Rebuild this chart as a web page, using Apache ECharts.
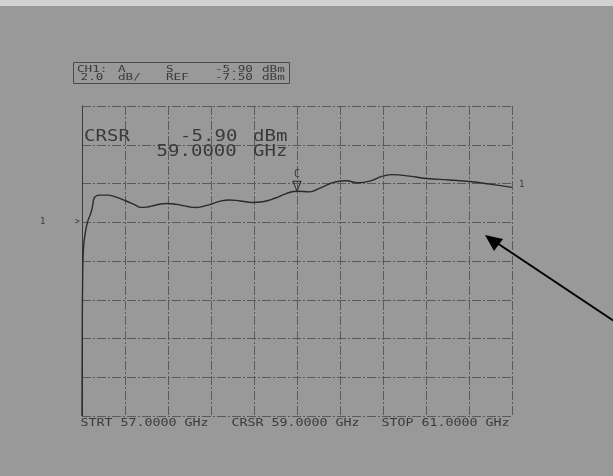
<!DOCTYPE html>
<html>
<head>
<meta charset="utf-8">
<script src="https://cdn.jsdelivr.net/npm/echarts@6/dist/echarts.min.js"></script>
<style>
html, body { margin: 0; padding: 0; background: #999999; }
#trendChart { width: 613px; height: 476px; }
</style>
</head>
<body>
<div id="trendChart"></div>
<script>
// trace: frequency (GHz) and level (dBm)
var freqArr = [57.000, 57.003, 57.006, 57.012, 57.030, 57.052, 57.082, 57.100, 57.112, 57.160,
	57.235, 57.312, 57.405, 57.498, 57.545, 57.600, 57.680, 57.791, 57.880, 57.994,
	58.056, 58.180, 58.279, 58.370, 58.470, 58.589, 58.680, 58.800, 58.900, 59.000,
	59.116, 59.209, 59.365, 59.458, 59.563, 59.675, 59.798, 59.891, 60.047, 60.202,
	60.419, 60.605, 60.791, 61.000];
var levelArr = [-17.5, -12.5, -10.5, -9.0, -8.06, -7.48, -7.03, -6.62, -6.27, -6.10,
	-6.10, -6.19, -6.39, -6.62, -6.73, -6.72, -6.62, -6.53, -6.58, -6.70,
	-6.74, -6.60, -6.42, -6.35, -6.40, -6.48, -6.44, -6.25, -6.02, -5.90,
	-5.93, -5.75, -5.41, -5.36, -5.46, -5.38, -5.12, -5.04, -5.12, -5.24,
	-5.32, -5.40, -5.53, -5.70];

var startFreq = 57.0;
var stopFreq = 61.0;
var cursorFreq = 59.0;
var cursorLevel = -5.90;
var refLevel = -7.50;
var dbPerDiv = 2.0;
var refDiv = 5;        // reference line, counted in divisions from the bottom
var xDivs = 10;
var yDivs = 8;

var headerRow1 = ['CH1:', 'A', 'S', '-5.90', 'dBm'];
var headerRow2 = ['2.0', 'dB/', 'REF', '-7.50', 'dBm'];
var crsrRow1 = ['CRSR', '-5.90', 'dBm'];
var crsrRow2 = ['59.0000', 'GHz'];
var sweepLabels = ['STRT 57.0000 GHz', 'CRSR 59.0000 GHz', 'STOP 61.0000 GHz'];

var seriesData = [];
for (var i = 0; i < freqArr.length; i++) {
	seriesData.push([freqArr[i], levelArr[i]]);
}

var ink = '#3a3a3a';
var mono = '"DejaVu Sans Mono", "Liberation Mono", monospace';

function txt(s, x, y, size, sx) {
	return {
		type: 'text', x: x, y: y, scaleX: sx, z: 10,
		style: { text: s, font: size + 'px ' + mono, fill: ink, textVerticalAlign: 'middle' }
	};
}

var headerX = [77, 118, 166, 215, 262];
var graphicArr = [
	{ type: 'rect', shape: { x: 0, y: 0, width: 613, height: 6 }, style: { fill: '#d2d2d2' } },
	{ type: 'rect', shape: { x: 73.5, y: 62.5, width: 216, height: 21 }, style: { fill: 'none', stroke: '#4a4a4a', lineWidth: 1 } }
];
for (var j = 0; j < headerRow1.length; j++) {
	graphicArr.push(txt(headerRow1[j], headerX[j], 69.5, 9, 1.4));
	graphicArr.push(txt(headerRow2[j], j == 0 ? 80.5 : headerX[j], 78, 9, 1.4));
}
graphicArr.push(txt(crsrRow1[0], 84, 137.5, 15, 1.27));
graphicArr.push(txt(crsrRow1[1], 180, 137.5, 15, 1.27));
graphicArr.push(txt(crsrRow1[2], 253, 137.5, 15, 1.27));
graphicArr.push(txt(crsrRow2[0], 156.5, 152.5, 15, 1.27));
graphicArr.push(txt(crsrRow2[1], 253, 152.5, 15, 1.27));
graphicArr.push(txt(sweepLabels[0], 80.5, 423.5, 10, 1.33));
graphicArr.push(txt(sweepLabels[1], 231.5, 423.5, 10, 1.33));
graphicArr.push(txt(sweepLabels[2], 381.5, 423.5, 10, 1.33));
// channel 1 reference markers
graphicArr.push(txt('1', 40, 221.7, 9, 1));
graphicArr.push(txt('>', 75, 221.7, 8, 1));
graphicArr.push(txt('1', 519, 184.5, 9, 1));
// pointer arrow
graphicArr.push({ type: 'line', z: 20, shape: { x1: 614, y1: 321, x2: 497, y2: 243 }, style: { stroke: '#000', lineWidth: 2 } });
graphicArr.push({ type: 'polygon', z: 20, shape: { points: [[485, 235], [494, 251], [503, 239]] }, style: { fill: '#000' } });

var gridLine = { show: true, lineStyle: { color: '#5a5a5a', width: 1, type: [9, 2, 2, 2] } };

var trendChartOption = {
	backgroundColor: '#999999',
	animation: false,
	grid: { left: 82, top: 106, right: 101, bottom: 60 },
	xAxis: [
		{
			type: 'value', min: startFreq, max: stopFreq, show: false
		},
		{
			type: 'value', min: 0, max: xDivs, interval: 1,
			axisLine: { show: false }, axisTick: { show: false }, axisLabel: { show: false },
			splitLine: gridLine
		}
	],
	yAxis: [
		{
			type: 'value', show: false,
			min: refLevel - refDiv * dbPerDiv,
			max: refLevel + (yDivs - refDiv) * dbPerDiv
		},
		{
			type: 'value', min: 0, max: yDivs, interval: 1, position: 'left',
			axisLine: { show: true, lineStyle: { color: '#3a3a3a', width: 1 } },
			axisTick: { show: false }, axisLabel: { show: false },
			splitLine: gridLine
		}
	],
	series: [
		{
			type: 'line',
			xAxisIndex: 0,
			yAxisIndex: 0,
			data: seriesData,
			showSymbol: false,
			smooth: 0.5,
			lineStyle: { color: '#2a2a2a', width: 1.4 },
			markPoint: {
				symbol: 'path://M0,0 L10,0 L5,11 Z',
				symbolSize: [8, 10],
				symbolOffset: [0, '-50%'],
				itemStyle: { color: 'rgba(0,0,0,0)', borderColor: '#2a2a2a', borderWidth: 1 },
				label: { show: true, position: 'top', distance: 1, formatter: 'C', color: ink, fontSize: 10, fontFamily: mono },
				data: [{ coord: [cursorFreq, cursorLevel] }]
			}
		},
		{
			type: 'line', xAxisIndex: 1, yAxisIndex: 1, data: [], silent: true
		}
	],
	graphic: graphicArr
};

var trendChart = echarts.init(document.getElementById('trendChart'));
trendChart.setOption(trendChartOption);
</script>
</body>
</html>
